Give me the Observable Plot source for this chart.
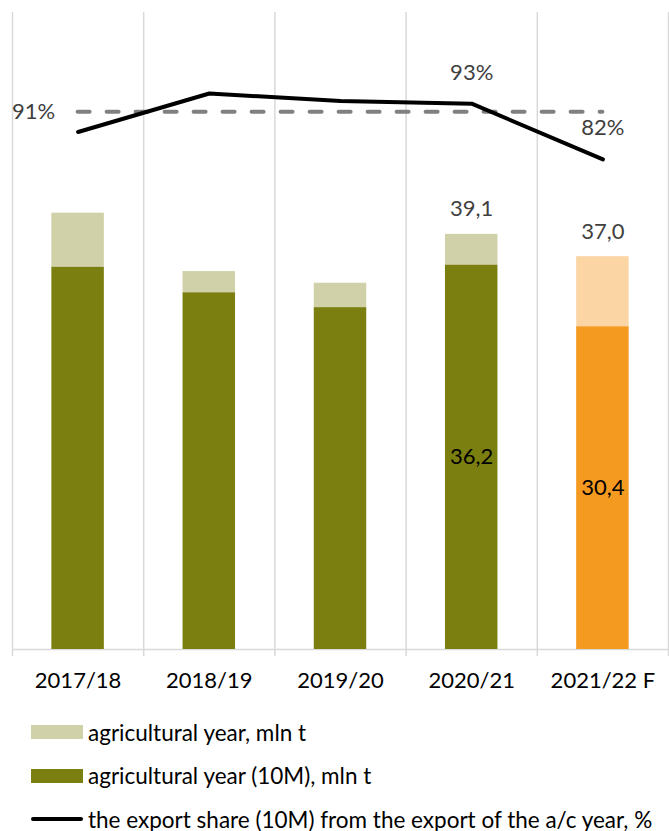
<!DOCTYPE html>
<html><head><meta charset="utf-8">
<script src="https://cdn.jsdelivr.net/npm/d3@7"></script>
<script src="https://cdn.jsdelivr.net/npm/@observablehq/plot@0.6"></script>
<style>
body{margin:0;background:#fff;font-family:Lato,sans-serif;}
#chart{position:relative;width:669px;height:700px;}
#chart svg{position:absolute;left:0;top:0;}
#legend{position:relative;width:669px;height:131px;}
.row{position:absolute;left:0;display:flex;align-items:center;font-size:22.5px;color:#000;height:30px;white-space:nowrap;}
.sw{width:52px;margin-left:31px;margin-right:5px;}
</style></head><body>
<div id="chart"></div><div id="legend"></div>
<script>
// ---- data ----
const seasons = ["2017/18", "2018/19", "2019/20", "2020/21", "2021/22 F"];
const exportYear = [41.1, 35.6, 34.5, 39.1, 37.0];   // agricultural year, mln t
const export10M = [36.0, 33.6, 32.2, 36.2, 30.4];    // agricultural year (10M), mln t
const share10M = [87.0, 94.6, 93.1, 92.6, 81.6];     // export share (10M), %
const shareAverage = 91;                              // dashed reference, %
const forecast = [false, false, false, false, true];
const labeled = [false, false, false, true, true];
const legendLabels = [
  "agricultural year, mln t",
  "agricultural year (10M), mln t",
  "the export share (10M) from the export of the a/c year, %"
];

const rows = seasons.map((s, i) => ({
  i, season: s, total: exportYear[i], m10: export10M[i], share: share10M[i],
  forecast: forecast[i], labeled: labeled[i]
}));
const bounds = d3.range(seasons.length + 1).map(i => i - 0.5);
const fmt = d3.formatLocale({decimal: ",", thousands: " ", grouping: [3], currency: ["", ""]}).format(".1f");

const OLIVE = "#7b7f10", OLIVE_L = "#d0d0a9", ORANGE = "#f59a20", ORANGE_L = "#fbd5a4";

const common = {
  width: 669, height: 700,
  marginTop: 12, marginBottom: 51, marginLeft: 12, marginRight: 1,
  style: {fontFamily: "Lato, sans-serif", fontSize: "22px", color: "#000", background: "transparent", overflow: "visible"}
};

const bars = Plot.plot({
  ...common,
  x: {domain: [-0.5, seasons.length - 0.5]},
  y: {domain: [0, 60], axis: null},
  color: {type: "identity"},
  marks: [
    Plot.ruleX(bounds, {stroke: "#d9d9d9", strokeWidth: 1.5, insetBottom: -7}),
    Plot.ruleY([0], {stroke: "#d9d9d9", strokeWidth: 1.5}),
    Plot.rectY(rows, {x1: d => d.i - 0.2, x2: d => d.i + 0.2, y1: "m10", y2: "total",
      fill: d => d.forecast ? ORANGE_L : OLIVE_L}),
    Plot.rectY(rows, {x1: d => d.i - 0.2, x2: d => d.i + 0.2, y1: () => 0, y2: "m10",
      fill: d => d.forecast ? ORANGE : OLIVE}),
    Plot.text(rows.filter(d => d.labeled), {x: "i", y: "total", text: d => fmt(d.total),
      dy: -25, fill: "#404040", fontSize: 22}),
    Plot.text(rows.filter(d => d.labeled), {x: "i", y: d => d.m10 / 2, text: d => fmt(d.m10),
      fill: "#000", fontSize: 22}),
    Plot.axisX({ticks: d3.range(seasons.length), tickFormat: i => seasons[i], tickSize: 0,
      tickPadding: 23, fontSize: 22, fill: "#000", label: null})
  ]
});

const line = Plot.plot({
  ...common,
  x: {domain: [-0.5, seasons.length - 0.5], axis: null},
  y: {domain: [-15.2, 110.6], axis: null},
  marks: [
    Plot.ruleY([shareAverage], {x1: () => 0, x2: () => seasons.length - 1, stroke: "#808080",
      strokeWidth: 4, strokeDasharray: "12,17", strokeLinecap: "round"}),
    Plot.lineY(rows, {x: "i", y: "share", stroke: "#000", strokeWidth: 4}),
    Plot.text([shareAverage], {x: () => 0, y: d => d, text: d => d + "%", textAnchor: "end",
      dx: -23, fill: "#404040", fontSize: 22}),
    Plot.text(rows.filter(d => d.labeled), {x: "i", y: "share", text: d => Math.round(d.share) + "%",
      dy: -31, fill: "#404040", fontSize: 22})
  ]
});

const chart = document.getElementById("chart");
chart.append(bars, line);

// ---- legend ----
const legend = d3.select("#legend");
const items = [
  {label: legendLabels[0], kind: "rect", color: OLIVE_L},
  {label: legendLabels[1], kind: "rect", color: OLIVE},
  {label: legendLabels[2], kind: "line", color: "#000"}
];
items.forEach((it, k) => {
  const row = legend.append("div").attr("class", "row").style("top", (17 + k * 43.5) + "px");
  row.append("div").attr("class", "sw")
    .style("height", it.kind === "rect" ? "14px" : "4px")
    .style("border-radius", it.kind === "rect" ? "0" : "2px")
    .style("background", it.color);
  row.append("span").text(it.label);
});
</script>
</body></html>
